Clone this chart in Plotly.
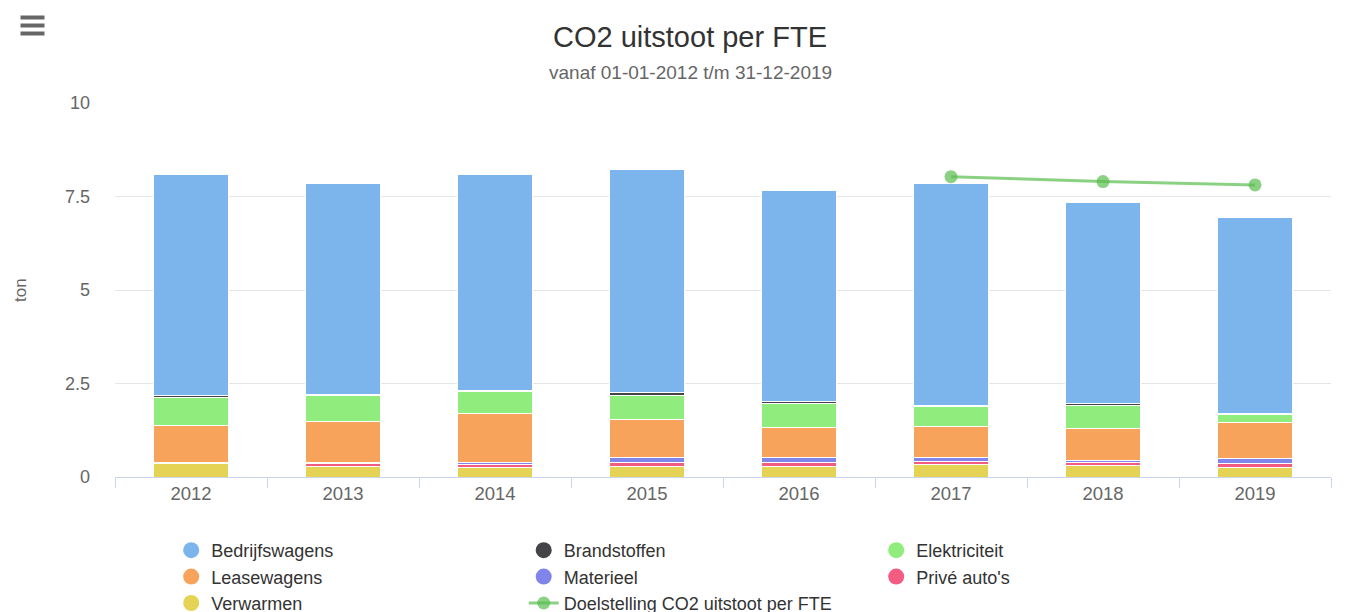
import plotly.graph_objects as go

years = ["2012", "2013", "2014", "2015", "2016", "2017", "2018", "2019"]

bedrijfswagens = [5.92, 5.64, 5.77, 5.95, 5.64, 5.94, 5.37, 5.24]
brandstoffen = [0.04, 0.04, 0.04, 0.08, 0.04, 0.03, 0.04, 0.03]
elektriciteit = [0.74, 0.68, 0.59, 0.65, 0.65, 0.53, 0.61, 0.23]
leasewagens = [0.99, 1.09, 1.29, 1.01, 0.80, 0.84, 0.88, 0.95]
materieel = [0.04, 0.03, 0.06, 0.12, 0.14, 0.11, 0.03, 0.13]
prive = [0.00, 0.08, 0.08, 0.11, 0.09, 0.08, 0.08, 0.12]
verwarmen = [0.36, 0.29, 0.26, 0.29, 0.29, 0.33, 0.32, 0.25]

doel_years = ["2017", "2018", "2019"]
doelstelling = [8.03, 7.90, 7.81]

y_ticks = [0, 2.5, 5, 7.5, 10]
y_tick_labels = ["0", "2.5", "5", "7.5", "10"]

FONT = "Liberation Sans, Arial, sans-serif"

# stacking order bottom -> top
stack = [
    ("Verwarmen", verwarmen, "#e4d354"),
    ("Privé auto's", prive, "#f15c80"),
    ("Materieel", materieel, "#8085e9"),
    ("Leasewagens", leasewagens, "#f7a35c"),
    ("Elektriciteit", elektriciteit, "#90ed7d"),
    ("Brandstoffen", brandstoffen, "#434348"),
    ("Bedrijfswagens", bedrijfswagens, "#7cb5ec"),
]

fig = go.Figure()
for name, vals, col in stack:
    fig.add_trace(go.Bar(
        x=years, y=vals, name=name, marker=dict(color=col, line=dict(color="white", width=1)),
        legendgroup=name, showlegend=False,
    ))

# legend entries (circles), in reference order
legend_order = ["Bedrijfswagens", "Brandstoffen", "Elektriciteit", "Leasewagens",
                "Materieel", "Privé auto's", "Verwarmen"]
colors = {n: c for n, _, c in stack}
for name in legend_order:
    fig.add_trace(go.Scatter(
        x=[None], y=[None], mode="markers", name=name, legendgroup=name,
        marker=dict(color=colors[name], size=16, symbol="circle"),
    ))

fig.add_trace(go.Scatter(
    x=doel_years, y=doelstelling, mode="lines+markers", name="Doelstelling CO2 uitstoot per FTE",
    line=dict(color="rgba(90,190,80,0.7)", width=3),
    marker=dict(color="rgba(90,190,80,0.7)", size=13),
))

OFF = 8  # page body margin
W, H = 1345, 612
L = 115 - OFF
T = 103 - OFF
B = H - (477 - OFF)
R = W - (1331 - OFF)
pw, ph = W - L - R, H - T - B


def px(x):  # page px -> paper
    return (x - OFF - L) / pw


def py(y):
    return (H - B - (y - OFF)) / ph


shapes = []
for yy in (17.5, 25.5, 33.5):
    shapes.append(dict(type="line", xref="paper", yref="paper", x0=px(20.5), x1=px(44.5),
                       y0=py(yy), y1=py(yy), line=dict(color="#666666", width=4)))

fig.update_layout(
    width=W, height=H,
    barmode="stack", bargap=0.507,
    margin=dict(l=L, r=R, t=T, b=B, autoexpand=False),
    paper_bgcolor="white", plot_bgcolor="white",
    font=dict(family=FONT, color="#666666", size=17),
    title=dict(text="CO2 uitstoot per FTE", x=(690 - OFF) / W, xanchor="center",
               y=1 - (37 - OFF) / H, yanchor="middle", yref="container",
               font=dict(size=29, color="#333333", family=FONT)),
    annotations=[
        dict(text="vanaf 01-01-2012 t/m 31-12-2019", xref="paper", yref="paper",
             x=px(690), y=py(73), xanchor="center", yanchor="middle", showarrow=False,
             font=dict(size=19, color="#666666", family=FONT)),
        dict(text="ton", xref="paper", yref="paper", x=px(20), y=py(290), textangle=-90,
             xanchor="center", yanchor="middle", showarrow=False,
             font=dict(size=17, color="#666666", family=FONT)),
    ],
    shapes=shapes,
    xaxis=dict(type="category", showgrid=False, showline=True, linecolor="#ccd6eb", linewidth=1,
               ticks="outside", tickson="boundaries", ticklen=10, tickcolor="#ccd6eb",
               tickfont=dict(size=18.5, color="#666666"), fixedrange=True),
    yaxis=dict(range=[0, 10], tickvals=y_ticks, ticktext=y_tick_labels, showgrid=True,
               gridcolor="#e6e6e6", gridwidth=1, zeroline=False, showline=False,
               ticklabelstandoff=24, tickfont=dict(size=18, color="#666666"), fixedrange=True),
    legend=dict(orientation="h", xref="container", yref="container", x=163.2 / W, y=1 - 524 / H,
                xanchor="left", yanchor="top", entrywidth=307.5, traceorder="normal",
                font=dict(size=18, color="#333333", family=FONT), itemsizing="trace",
                bgcolor="rgba(0,0,0,0)"),
    showlegend=True,
)

fig.write_html("out.html")
